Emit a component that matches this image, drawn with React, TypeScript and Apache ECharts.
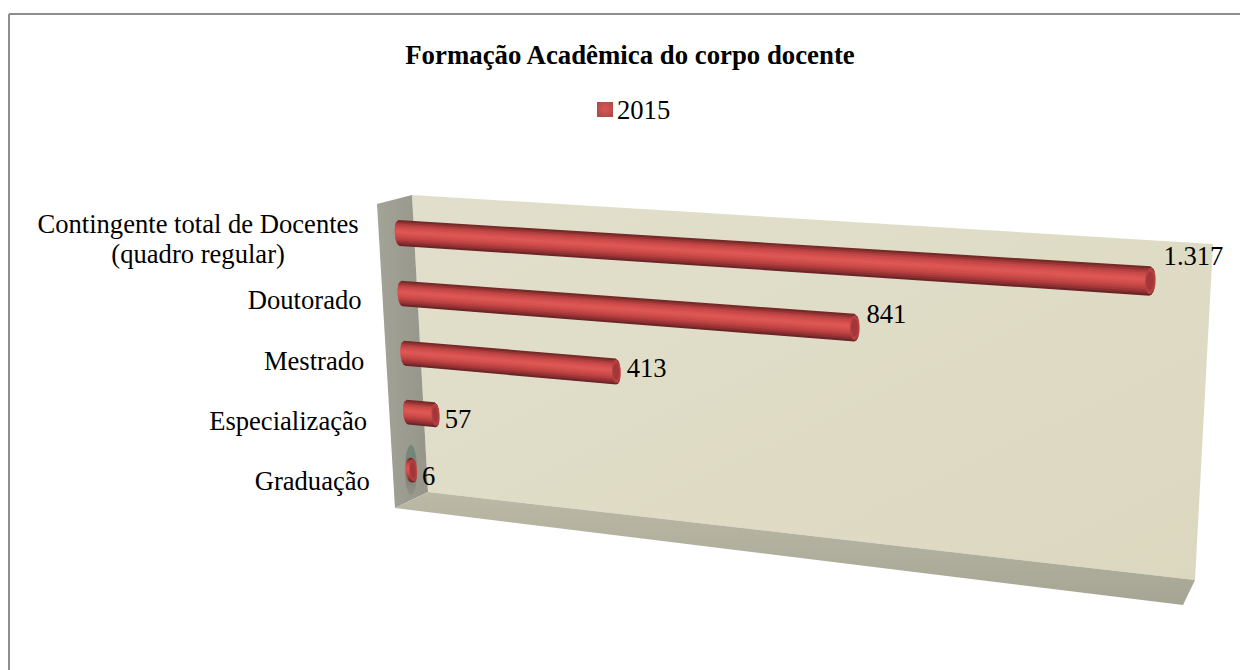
import React, { useEffect, useRef } from "react";
import * as echarts from "echarts";

const categories = [
  "Contingente total de Docentes\n(quadro regular)",
  "Doutorado",
  "Mestrado",
  "Especialização",
  "Graduação",
];
const values = [1317, 841, 413, 57, 6];
const valueLabels = ["1.317", "841", "413", "57", "6"];
const seriesName = "2015";
const titleText = "Formação Acadêmica do corpo docente";

const SERIF = "'Liberation Serif','Times New Roman',serif";
const FS = 26.6;

// plane of the bars on screen: value 0 / max, first / last category
const Q = [
  [399, 233],
  [1150, 281],
  [1138, 549],
  [410, 470],
];
const [x0, y0] = Q[0], [x1, y1] = Q[1], [x2, y2] = Q[2], [x3, y3] = Q[3];
const dx1 = x1 - x2, dx2 = x3 - x2, sx = x0 - x1 + x2 - x3;
const dy1 = y1 - y2, dy2 = y3 - y2, sy = y0 - y1 + y2 - y3;
const den = dx1 * dy2 - dx2 * dy1;
const G = (sx * dy2 - dx2 * sy) / den;
const H = (dx1 * sy - sx * dy1) / den;
const A = x1 - x0 + G * x1, B = x3 - x0 + H * x3;
const D = y1 - y0 + G * y1, E = y3 - y0 + H * y3;
const project = (u: number, s: number): number[] => {
  const w = G * u + H * s + 1;
  return [(A * u + B * s + x0) / w, (D * u + E * s + y0) / w];
};

const HALF = 0.053;
const CAP = 0.0065;
const shades = [
  "#74292b", "#98342f", "#b34040", "#c64848", "#d24e4c", "#d95452", "#dc5856",
  "#d8534f", "#cf4d4b", "#c44746", "#b63f3f", "#a33738", "#8a2f31", "#6c2527",
];

const textWidth = (t: string): number => {
  const ctx = document.createElement("canvas").getContext("2d")!;
  ctx.font = `${FS}px ${SERIF}`;
  return ctx.measureText(t).width;
};

const poly = (pts: number[][], fill: any) => ({
  type: "polygon",
  silent: true,
  shape: { points: pts },
  style: { fill },
});
const grad = (x: number, y: number, x2_: number, y2_: number, stops: string[]) => ({
  type: "linear", x, y, x2: x2_, y2: y2_,
  colorStops: stops.map((color, i) => ({ offset: i / (stops.length - 1), color })),
});

const renderItem = (params: any, api: any) => {
  const cs = params.coordSys;
  const i = api.value(1);
  const val = api.value(0);
  const p = api.coord([val, i]);
  const base = api.coord([0, i]);
  const u1 = (p[0] - cs.x) / cs.width;
  const u0 = (base[0] - cs.x) / cs.width;
  const s = ((p[1] - cs.y) / cs.height - 0.1) / 0.8;
  const children: any[] = [];
  const n = shades.length;
  const bulge = (t: number) => CAP * Math.sqrt(Math.max(0, 1 - t * t));
  for (let k = 0; k < n; k++) {
    const a = -1 + (2 * k) / n;
    // each band runs under the next one, so no seams show between them
    const b = k === n - 1 ? 1 : -1 + (2 * (k + 1.6)) / n;
    const pts = [
      project(u0 - bulge(a), s + a * HALF),
      project(u1 + bulge(a), s + a * HALF),
      project(u1 + bulge(b), s + b * HALF),
      project(u0 - bulge(b), s + b * HALF),
    ];
    children.push({
      type: "polygon",
      shape: { points: pts },
      style: { fill: shades[k] },
    });
  }
  const ell = (f: number, fill: string) => {
    const pts: number[][] = [];
    for (let k = 0; k < 28; k++) {
      const t = (k / 28) * Math.PI * 2;
      pts.push(project(u1 + Math.cos(t) * CAP * f, s + Math.sin(t) * HALF * f));
    }
    return { type: "polygon", shape: { points: pts }, style: { fill } };
  };
  children.push(ell(0.9, "#b33f41"));
  children.push(ell(0.62, "#a23639"));

  const end = project(u1 + CAP, s);
  const start = project(u0 - CAP, s);
  children.push({
    type: "text",
    style: {
      text: valueLabels[i],
      x: end[0] + 5 + 3 * u1,
      y: end[1] + 5 - 30 * u1,
      fill: "#000",
      fontFamily: SERIF,
      fontSize: FS,
      align: "left",
      verticalAlign: "middle",
    },
  });
  const cat = categories[i];
  const widest = Math.max(...cat.split("\n").map(textWidth));
  children.push({
    type: "text",
    style: {
      text: cat,
      x: start[0] - 36 - widest / 2,
      y: start[1] + 6 + 5 * s,
      fill: "#000",
      fontFamily: SERIF,
      fontSize: FS,
      lineHeight: 30,
      align: "center",
      verticalAlign: "middle",
    },
  });
  return { type: "group", children };
};

export default function App() {
  const ref = useRef<HTMLDivElement>(null);
  useEffect(() => {
    const chart = echarts.init(ref.current!, undefined, { renderer: "svg" });
    chart.setOption({
      animation: false,
      backgroundColor: "#ffffff",
      title: {
        text: titleText,
        left: 625,
        top: 36,
        textAlign: "center",
        textStyle: { fontFamily: SERIF, fontWeight: "bold", fontSize: 26.8, color: "#000" },
      },
      legend: {
        left: 592,
        top: 91,
        itemWidth: 16,
        itemHeight: 15,
        itemGap: 0,
        icon: "rect",
        data: [seriesName],
        textStyle: { fontFamily: SERIF, fontSize: FS, color: "#000", padding: [0, 0, 0, -1] },
      },
      grid: { left: 100, top: 100, width: 1000, height: 500 },
      xAxis: { type: "value", min: 0, max: 1317, show: false },
      yAxis: { type: "category", inverse: true, data: categories, show: false },
      graphic: [
        {
          type: "group",
          z: 0,
          silent: true,
          children: [
            { type: "line", shape: { x1: 9, y1: 14, x2: 1240, y2: 14 }, style: { stroke: "#8e8e8e", lineWidth: 2 } },
            { type: "line", shape: { x1: 9, y1: 14, x2: 9, y2: 670 }, style: { stroke: "#8e8e8e", lineWidth: 2 } },
            poly([[412, 195], [1213, 244], [1195, 580], [428, 492]], grad(0, 0, 1, 1, ["#e1dfcb", "#dfdcc6", "#dcd7bf"])),
            poly([[377, 204], [412, 195], [428, 492], [395, 508]], grad(0, 0, 1, 0, ["#a3a398", "#95958a"])),
            poly([[395, 508], [428, 492], [1195, 580], [1183, 605]], grad(0, 0, 0, 1, ["#bcb9a6", "#a6a594"])),
            {
              type: "ellipse",
              shape: { cx: 411, cy: 470, rx: 6, ry: 25 },
              style: { fill: grad(0, 0, 0, 1, ["#62806f", "#6f7d74", "#7a7a72", "#8f8f84"]), opacity: 0.75 },
            },
          ],
        },
      ],
      series: [
        {
          type: "custom",
          name: seriesName,
          coordinateSystem: "cartesian2d",
          renderItem,
          encode: { x: 0, y: 1 },
          itemStyle: {
            color: {
              type: "radial", x: 0.5, y: 0.45, r: 0.7,
              colorStops: [
                { offset: 0, color: "#dd5652" },
                { offset: 1, color: "#a24a4a" },
              ],
            },
          },
          data: values.map((v, i) => [v, i]),
        },
      ],
    });
    return () => chart.dispose();
  }, []);
  return <div ref={ref} style={{ position: "absolute", left: 0, top: 0, width: 1240, height: 670 }} />;
}
